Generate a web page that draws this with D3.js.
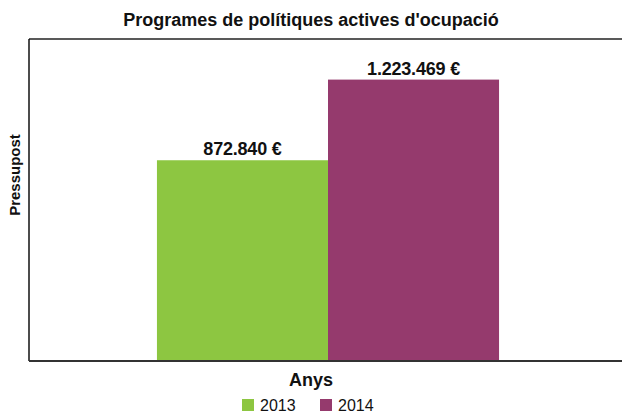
<!DOCTYPE html>
<html lang="ca">
<head>
<meta charset="utf-8">
<title>Programes de polítiques actives d'ocupació</title>
<script src="https://d3js.org/d3.v7.min.js"></script>
<style>
  body { margin: 0; background: #fff; }
  svg text { font-family: "Liberation Sans", Arial, Helvetica, sans-serif; fill: #111; }
</style>
</head>
<body>
<div id="chart"></div>
<script>
// chart data
const groups = ["Anys"];
const years = ["2013", "2014"];
const budget = [872840, 1223469];
const colors = ["#8dc641", "#953a6d"];
const yMax = 1400000;

const W = 622, H = 414;
const margin = { top: 39, right: -5, bottom: 53, left: 29 };
const plotW = W - margin.left - margin.right;
const plotH = H - margin.top - margin.bottom;

const fmt = d3.formatLocale({ decimal: ",", thousands: ".", grouping: [3], currency: ["", " €"] }).format("$,.0f");

const svg = d3.select("#chart").append("svg")
  .attr("width", W)
  .attr("height", H);

const g = svg.append("g").attr("transform", `translate(${margin.left},${margin.top})`);

// x scales: one outer group, years inside it
const x0 = d3.scaleBand().domain(groups).range([0, plotW]).paddingOuter(0.374).paddingInner(0);
const x1 = d3.scaleBand().domain(years).range([0, x0.bandwidth()]);
const y = d3.scaleLinear().domain([0, yMax]).range([plotH, 0]);

const data = years.map((yr, i) => ({ group: groups[0], year: yr, value: budget[i], color: colors[i] }));

// bars
g.selectAll("rect.bar")
  .data(data)
  .enter()
  .append("rect")
  .attr("class", "bar")
  .attr("x", d => x0(d.group) + x1(d.year))
  .attr("y", d => y(d.value))
  .attr("width", x1.bandwidth())
  .attr("height", d => plotH - y(d.value))
  .attr("fill", d => d.color);

// value labels
g.selectAll("text.val")
  .data(data)
  .enter()
  .append("text")
  .attr("class", "val")
  .attr("x", d => x0(d.group) + x1(d.year) + x1.bandwidth() / 2)
  .attr("y", d => y(d.value) - 5)
  .attr("text-anchor", "middle")
  .style("font-size", "18px")
  .style("font-weight", "bold")
  .style("letter-spacing", "-0.2px")
  .text(d => fmt(d.value));

// frame: top, left, bottom (no right side)
g.append("line").attr("x1", 0).attr("x2", W).attr("y1", 0).attr("y2", 0)
  .attr("stroke", "#222").attr("stroke-width", 1.5);
g.append("line").attr("x1", 0).attr("x2", 0).attr("y1", 0).attr("y2", plotH)
  .attr("stroke", "#111").attr("stroke-width", 1.5);
g.append("line").attr("x1", 0).attr("x2", W).attr("y1", plotH).attr("y2", plotH)
  .attr("stroke", "#333").attr("stroke-width", 2);

// title
svg.append("text")
  .attr("x", W / 2)
  .attr("y", 26)
  .attr("text-anchor", "middle")
  .style("font-size", "18px")
  .style("font-weight", "bold")
  .text("Programes de polítiques actives d'ocupació");

// axis titles
svg.append("text")
  .attr("transform", `translate(20,175) rotate(-90)`)
  .attr("text-anchor", "middle")
  .style("font-size", "15px")
  .style("font-weight", "bold")
  .text("Pressupost");

svg.append("text")
  .attr("x", 311)
  .attr("y", 386)
  .attr("text-anchor", "middle")
  .style("font-size", "18px")
  .style("font-weight", "bold")
  .text(groups[0]);

// legend
const legend = svg.append("g").attr("transform", "translate(242,399)");
const item = legend.selectAll("g")
  .data(data)
  .enter()
  .append("g")
  .attr("transform", (d, i) => `translate(${i * 78},0)`);
item.append("rect")
  .attr("width", 12).attr("height", 12)
  .attr("fill", d => d.color);
item.append("text")
  .attr("x", 18)
  .attr("y", 11.5)
  .style("font-size", "16px")
  .text(d => d.year);
</script>
</body>
</html>
